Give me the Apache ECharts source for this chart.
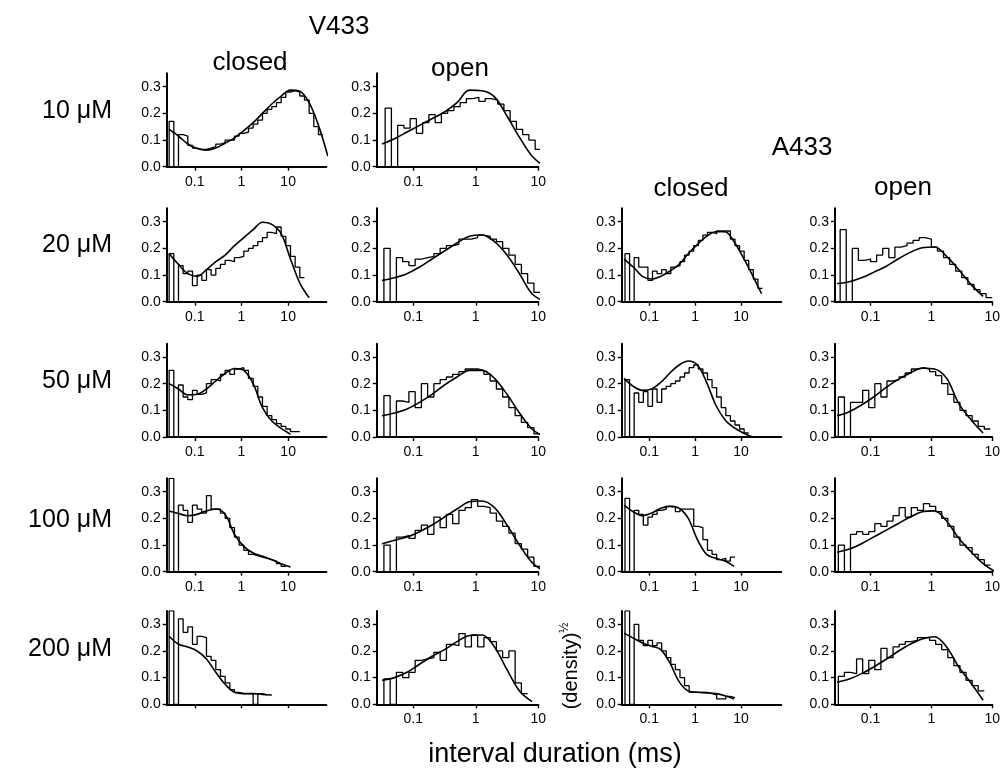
<!DOCTYPE html>
<html>
<head>
<meta charset="utf-8">
<script src="https://cdn.jsdelivr.net/npm/echarts@6/dist/echarts.min.js"></script>
<style>
  html, body { margin: 0; padding: 0; background: #fff; }
  #chart { width: 1003px; height: 781px; }
</style>
</head>
<body>
<div id="chart"></div>
<script>
// ---- axis ticks ----
const xTickValues = [0.1, 1, 10];          // interval duration, ms
const xTickLabels = ['0.1', '1', '10'];
const yTickValues = [0, 0.1, 0.2, 0.3];    // (density)^1/2
const yTickLabels = ['0.0', '0.1', '0.2', '0.3'];
const yMax = 0.35;

const concentrations = ['10 μM', '20 μM', '50 μM', '100 μM', '200 μM'];
const columnTitles = ['closed', 'open', 'closed', 'open'];
const groupTitles = ['V433', 'A433'];

// x extent of each column, ms
const xRanges = [[0.025, 66], [0.026, 10], [0.025, 76], [0.026, 10]];

const binsPerDecade = 10;   // histogram bins, log-spaced
const fitPerDecade = 5;     // samples of the fitted curves

// ---- V433 closed ----
const histV433Closed10 = [0.17, 0, 0.12, 0.115, 0.08, 0.07, 0.065, 0.065, 0.07, 0.075, 0.085, 0.09, 0.1, 0.1, 0.115, 0.125, 0.13, 0.145, 0.16, 0.175, 0.2, 0.215, 0.225, 0.24, 0.26, 0.28, 0.285, 0.28, 0.265, 0.25, 0.2, 0.15, 0.12];
const fitV433Closed10 = [0.14, 0.115, 0.085, 0.068, 0.062, 0.07, 0.088, 0.108, 0.135, 0.165, 0.2, 0.235, 0.265, 0.287, 0.283, 0.24, 0.155, 0.04];
const histV433Closed20 = [0.18, 0, 0.135, 0.105, 0.115, 0.06, 0.1, 0.08, 0.12, 0.1, 0.125, 0.14, 0.155, 0.15, 0.165, 0.17, 0.19, 0.2, 0.21, 0.225, 0.24, 0.26, 0.255, 0.28, 0.245, 0.21, 0.17, 0.13, 0.09];
const fitV433Closed20 = [0.18, 0.14, 0.105, 0.095, 0.12, 0.15, 0.175, 0.21, 0.24, 0.27, 0.298, 0.29, 0.255, 0.16, 0.07, 0.015];
const histV433Closed50 = [0.25, 0, 0.195, 0.15, 0.14, 0.175, 0.16, 0.165, 0.2, 0.215, 0.21, 0.235, 0.25, 0.235, 0.255, 0.26, 0.25, 0.22, 0.19, 0.15, 0.115, 0.08, 0.065, 0.05, 0.04, 0.03, 0.02, 0.02];
const fitV433Closed50 = [0.2, 0.18, 0.158, 0.16, 0.18, 0.21, 0.238, 0.257, 0.25, 0.2, 0.11, 0.06, 0.032, 0.01];
const histV433Closed100 = [0.35, 0, 0.25, 0.23, 0.185, 0.25, 0.235, 0.22, 0.285, 0.235, 0.235, 0.22, 0.2, 0.165, 0.13, 0.1, 0.08, 0.065, 0.06, 0.055, 0.05, 0.045, 0.04, 0.03, 0.02];
const fitV433Closed100 = [0.228, 0.218, 0.21, 0.215, 0.228, 0.235, 0.215, 0.14, 0.095, 0.07, 0.058, 0.045, 0.03, 0.018];
const histV433Closed200 = [0.35, 0, 0.32, 0.27, 0.29, 0.225, 0.255, 0.25, 0.18, 0.165, 0.13, 0.105, 0.08, 0.055, 0.045, 0.04, 0.04, 0.04, 0, 0.04, 0.035];
const fitV433Closed200 = [0.255, 0.225, 0.215, 0.2, 0.17, 0.12, 0.075, 0.045, 0.04, 0.04, 0.037, 0.035];

// ---- V433 open ----
const histV433Open10 = [0.22, 0, 0.155, 0.145, 0.18, 0.125, 0.165, 0.195, 0.165, 0.2, 0.21, 0.225, 0.24, 0.255, 0.26, 0.245, 0.255, 0.25, 0.235, 0.21, 0.17, 0.14, 0.12, 0.1, 0.065];
const fitV433Open10 = [0.085, 0.105, 0.13, 0.155, 0.18, 0.205, 0.24, 0.287, 0.285, 0.262, 0.19, 0.11, 0.04, 0.0];
const histV433Open20 = [0.2, 0, 0.165, 0.15, 0.135, 0.16, 0.165, 0.17, 0.18, 0.2, 0.21, 0.215, 0.235, 0.235, 0.24, 0.25, 0.245, 0.235, 0.225, 0.2, 0.175, 0.14, 0.105, 0.07, 0.035];
const fitV433Open20 = [0.08, 0.09, 0.105, 0.13, 0.16, 0.19, 0.22, 0.245, 0.25, 0.225, 0.175, 0.105, 0.03, 0.0];
const histV433Open50 = [0.155, 0, 0.135, 0.13, 0.17, 0.11, 0.2, 0.15, 0.2, 0.215, 0.225, 0.235, 0.245, 0.255, 0.255, 0.25, 0.235, 0.21, 0.18, 0.15, 0.11, 0.08, 0.055, 0.035, 0.012];
const fitV433Open50 = [0.08, 0.09, 0.105, 0.13, 0.16, 0.195, 0.225, 0.25, 0.25, 0.22, 0.16, 0.09, 0.03, 0.0];
const histV433Open100 = [0.1, 0, 0.13, 0.135, 0.125, 0.155, 0.175, 0.14, 0.205, 0.165, 0.215, 0.18, 0.23, 0.24, 0.27, 0.245, 0.24, 0.22, 0.19, 0.17, 0.145, 0.105, 0.085, 0.055, 0.02];
const fitV433Open100 = [0.105, 0.118, 0.13, 0.15, 0.175, 0.205, 0.235, 0.262, 0.265, 0.24, 0.175, 0.1, 0.035, 0.0];
const histV433Open200 = [0.095, 0, 0.12, 0.1, 0.12, 0.165, 0.17, 0.175, 0.195, 0.165, 0.225, 0.22, 0.265, 0.215, 0.26, 0.215, 0.25, 0.235, 0.2, 0.175, 0.2, 0.08, 0.04];
const fitV433Open200 = [0.09, 0.1, 0.12, 0.15, 0.18, 0.205, 0.235, 0.258, 0.26, 0.215, 0.13, 0.05, 0.01];

// ---- A433 closed ----
const histA433Closed20 = [0.18, 0, 0.165, 0.13, 0.13, 0.08, 0.115, 0.105, 0.12, 0.105, 0.13, 0.135, 0.15, 0.175, 0.19, 0.21, 0.23, 0.25, 0.26, 0.255, 0.265, 0.265, 0.265, 0.235, 0.21, 0.19, 0.155, 0.12, 0.085, 0.05];
const fitA433Closed20 = [0.16, 0.13, 0.095, 0.085, 0.095, 0.115, 0.14, 0.18, 0.215, 0.245, 0.262, 0.262, 0.225, 0.165, 0.1, 0.03];
const histA433Closed50 = [0.215, 0, 0.165, 0.13, 0.17, 0.115, 0.18, 0.13, 0.18, 0.19, 0.2, 0.21, 0.225, 0.24, 0.26, 0.27, 0.255, 0.24, 0.215, 0.185, 0.15, 0.11, 0.08, 0.06, 0.045, 0.03, 0.015];
const fitA433Closed50 = [0.22, 0.19, 0.175, 0.18, 0.205, 0.24, 0.27, 0.285, 0.27, 0.205, 0.12, 0.065, 0.035, 0.015, 0.0];
const histA433Closed100 = [0.275, 0, 0.23, 0.215, 0.175, 0.205, 0.215, 0.23, 0.235, 0.245, 0.245, 0.225, 0.235, 0.235, 0.235, 0.17, 0.165, 0.12, 0.08, 0.065, 0.045, 0.05, 0.04, 0.055];
const fitA433Closed100 = [0.25, 0.225, 0.21, 0.22, 0.238, 0.245, 0.238, 0.2, 0.12, 0.065, 0.05, 0.04, 0.02];
const histA433Closed200 = [0.35, 0, 0.3, 0.24, 0.22, 0.24, 0.22, 0.23, 0.2, 0.175, 0.15, 0.13, 0.1, 0.07, 0.045, 0.045, 0.045, 0.045, 0.04, 0.035, 0.02, 0.02, 0.03, 0.025];
const fitA433Closed200 = [0.267, 0.248, 0.23, 0.218, 0.205, 0.155, 0.085, 0.05, 0.045, 0.043, 0.04, 0.032, 0.02];

// ---- A433 open ----
const histA433Open20 = [0.27, 0, 0.2, 0.155, 0.16, 0.15, 0.175, 0.2, 0.165, 0.205, 0.21, 0.22, 0.23, 0.24, 0.235, 0.205, 0.19, 0.165, 0.14, 0.115, 0.09, 0.065, 0.045, 0.03, 0.015];
const fitA433Open20 = [0.068, 0.075, 0.09, 0.11, 0.132, 0.16, 0.185, 0.202, 0.205, 0.17, 0.12, 0.065, 0.02];
const histA433Open50 = [0.15, 0, 0.13, 0.13, 0.175, 0.11, 0.2, 0.15, 0.21, 0.215, 0.225, 0.24, 0.255, 0.26, 0.255, 0.245, 0.23, 0.2, 0.16, 0.13, 0.1, 0.08, 0.06, 0.04, 0.03];
const fitA433Open50 = [0.08, 0.095, 0.12, 0.15, 0.185, 0.215, 0.24, 0.258, 0.255, 0.22, 0.125, 0.065, 0.015];
const histA433Open100 = [0.1, 0, 0.14, 0.15, 0.14, 0.15, 0.18, 0.17, 0.19, 0.21, 0.24, 0.205, 0.24, 0.23, 0.255, 0.245, 0.225, 0.2, 0.17, 0.13, 0.1, 0.09, 0.065, 0.045, 0.025];
const fitA433Open100 = [0.073, 0.085, 0.105, 0.13, 0.155, 0.18, 0.205, 0.225, 0.228, 0.19, 0.125, 0.075, 0.03, 0.0];
const histA433Open200 = [0.105, 0.12, 0.115, 0.17, 0.115, 0.165, 0.13, 0.21, 0.175, 0.215, 0.225, 0.235, 0.24, 0.25, 0.25, 0.24, 0.225, 0.205, 0.175, 0.145, 0.12, 0.09, 0.07, 0.05];
const fitA433Open200 = [0.083, 0.095, 0.115, 0.14, 0.168, 0.198, 0.225, 0.245, 0.253, 0.215, 0.14, 0.08, 0.015];

// first bin edge / first fit sample, ms
const panels = [
  { row: 0, col: 0, hist: histV433Closed10,  histFrom: 0.0282, fit: fitV433Closed10,  fitFrom: 0.0282 },
  { row: 0, col: 1, hist: histV433Open10,    histFrom: 0.0355, fit: fitV433Open10,    fitFrom: 0.0316 },
  { row: 1, col: 0, hist: histV433Closed20,  histFrom: 0.0282, fit: fitV433Closed20,  fitFrom: 0.0282 },
  { row: 1, col: 1, hist: histV433Open20,    histFrom: 0.0339, fit: fitV433Open20,    fitFrom: 0.0316 },
  { row: 1, col: 2, hist: histA433Closed20,  histFrom: 0.0295, fit: fitA433Closed20,  fitFrom: 0.0282 },
  { row: 1, col: 3, hist: histA433Open20,    histFrom: 0.0316, fit: fitA433Open20,    fitFrom: 0.0282 },
  { row: 2, col: 0, hist: histV433Closed50,  histFrom: 0.0282, fit: fitV433Closed50,  fitFrom: 0.0282 },
  { row: 2, col: 1, hist: histV433Open50,    histFrom: 0.0339, fit: fitV433Open50,    fitFrom: 0.0316 },
  { row: 2, col: 2, hist: histA433Closed50,  histFrom: 0.0295, fit: fitA433Closed50,  fitFrom: 0.0282 },
  { row: 2, col: 3, hist: histA433Open50,    histFrom: 0.0295, fit: fitA433Open50,    fitFrom: 0.0282 },
  { row: 3, col: 0, hist: histV433Closed100, histFrom: 0.0282, fit: fitV433Closed100, fitFrom: 0.0282 },
  { row: 3, col: 1, hist: histV433Open100,   histFrom: 0.0339, fit: fitV433Open100,   fitFrom: 0.0316 },
  { row: 3, col: 2, hist: histA433Closed100, histFrom: 0.0295, fit: fitA433Closed100, fitFrom: 0.0282 },
  { row: 3, col: 3, hist: histA433Open100,   histFrom: 0.0295, fit: fitA433Open100,   fitFrom: 0.0282 },
  { row: 4, col: 0, hist: histV433Closed200, histFrom: 0.0282, fit: fitV433Closed200, fitFrom: 0.0282, noXLabels: true },
  { row: 4, col: 1, hist: histV433Open200,   histFrom: 0.0339, fit: fitV433Open200,   fitFrom: 0.0316 },
  { row: 4, col: 2, hist: histA433Closed200, histFrom: 0.0295, fit: fitA433Closed200, fitFrom: 0.0282 },
  { row: 4, col: 3, hist: histA433Open200,   histFrom: 0.0295, fit: fitA433Open200,   fitFrom: 0.0282 }
];

// ---- layout (px) ----
const colLeft = [166.7, 376.7, 621.7, 835];
const decadePx = [46.67, 62.5, 45.83, 61];
const rowBase = [166.7, 301.7, 437, 571.7, 704.3];   // y of the 0.0 line
const unitPx = 266.7;                                  // px per 1.0 of (density)^1/2
const FONT = "'Liberation Sans', Arial, Helvetica, sans-serif";
const INK = '#000';

const log10 = Math.log10;
const grids = [], xAxes = [], yAxes = [], series = [];

function xLabel(v) {
  for (let i = 0; i < xTickValues.length; i++) {
    if (Math.abs(log10(xTickValues[i]) - v) < 1e-6) return xTickLabels[i];
  }
  return '';
}
function yLabel(v) {
  for (let i = 0; i < yTickValues.length; i++) {
    if (Math.abs(yTickValues[i] - v) < 1e-9) return yTickLabels[i];
  }
  return '';
}

panels.forEach((p, i) => {
  const xmin = log10(xRanges[p.col][0]);
  const xmax = log10(xRanges[p.col][1]);
  const height = yMax * unitPx;
  grids.push({
    left: colLeft[p.col],
    top: rowBase[p.row] - height,
    width: (xmax - xmin) * decadePx[p.col],
    height: height
  });
  xAxes.push({
    gridIndex: i, type: 'value', min: xmin, max: xmax,
    axisLine: { show: true, lineStyle: { color: INK, width: 2 } },
    axisTick: { show: true, length: 4, customValues: xTickValues.map(log10), lineStyle: { color: INK, width: 1.4 } },
    axisLabel: {
      show: !p.noXLabels, customValues: xTickValues.map(log10), formatter: xLabel,
      margin: 8, color: INK, fontSize: 14, fontFamily: FONT
    },
    splitLine: { show: false }
  });
  yAxes.push({
    gridIndex: i, type: 'value', min: 0, max: yMax,
    axisLine: { show: true, onZero: false, lineStyle: { color: INK, width: 2 } },
    axisTick: { show: true, length: 4, customValues: yTickValues, lineStyle: { color: INK, width: 1.4 } },
    axisLabel: {
      customValues: yTickValues, formatter: yLabel,
      margin: 6, color: INK, fontSize: 14, fontFamily: FONT
    },
    splitLine: { show: false }
  });

  // histogram outline: log-spaced bins drawn as a step line
  const e0 = log10(p.histFrom);
  const n = p.hist.length;
  const histPts = [[e0, 0]];
  p.hist.forEach((h, k) => histPts.push([e0 + k / binsPerDecade, h]));
  histPts.push([e0 + n / binsPerDecade, p.hist[n - 1]]);
  series.push({
    type: 'line', xAxisIndex: i, yAxisIndex: i, step: 'end',
    data: histPts, symbol: 'none', silent: true,
    lineStyle: { color: INK, width: 1.3 }
  });

  // fitted density curve
  const f0 = log10(p.fitFrom);
  series.push({
    type: 'line', xAxisIndex: i, yAxisIndex: i, smooth: 0.35,
    data: p.fit.map((v, k) => [f0 + k / fitPerDecade, v]),
    symbol: 'none', silent: true,
    lineStyle: { color: INK, width: 1.6 }
  });
});

// ---- text ----
function txt(text, x, y, size, extra) {
  return {
    type: 'text', x: x, y: y, silent: true,
    style: Object.assign({
      text: text, fill: INK, fontSize: size, fontFamily: FONT,
      align: 'center', verticalAlign: 'middle'
    }, extra || {})
  };
}
const rowLabelY = [111, 245, 381, 520, 649];
const graphics = [
  txt(groupTitles[0], 339, 27, 26),
  txt(columnTitles[0], 250, 63, 26),
  txt(columnTitles[1], 460, 69, 26),
  txt(groupTitles[1], 802, 148, 26),
  txt(columnTitles[2], 691, 189, 26),
  txt(columnTitles[3], 903, 188, 26),
  txt('interval duration (ms)', 555, 755, 27)
];
concentrations.forEach((c, r) => graphics.push(txt(c, 112, rowLabelY[r], 25, { align: 'right' })));
graphics.push({
  type: 'text', x: 571, y: 666, rotation: Math.PI / 2, silent: true,
  style: {
    text: '(density){s|½}', fill: INK, fontSize: 20, fontFamily: FONT,
    align: 'center', verticalAlign: 'middle',
    rich: { s: { fontSize: 12, fontFamily: FONT, fill: INK, verticalAlign: 'top', lineHeight: 24 } }
  }
});

const chart = echarts.init(document.getElementById('chart'), null, { renderer: 'canvas' });
chart.setOption({
  backgroundColor: '#fff',
  animation: false,
  grid: grids,
  xAxis: xAxes,
  yAxis: yAxes,
  series: series,
  graphic: graphics
});
</script>
</body>
</html>
